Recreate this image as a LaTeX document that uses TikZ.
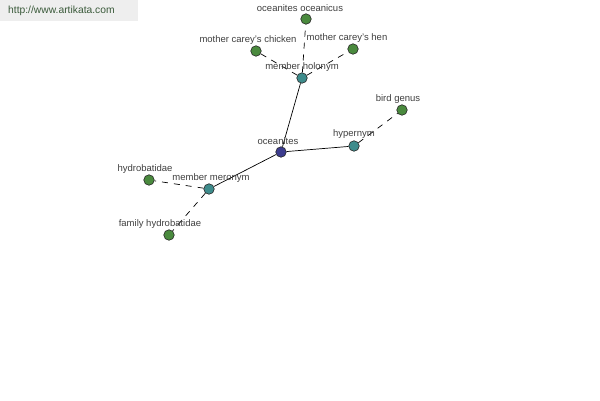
\documentclass[tikz,border=0pt]{standalone}
\usepackage{fontspec}
\setmainfont{Liberation Sans}
\begin{document}
\begin{tikzpicture}[x=1pt,y=-1pt,
  dot/.style={circle,draw=black!85,line width=0.6pt,inner sep=0pt,minimum size=10.5pt},
  leaf/.style={dot,fill=leafgreen},
  rel/.style={dot,fill=relteal},
  root/.style={dot,fill=rootblue},
  lbl/.style={font=\fontsize{9.5}{10}\selectfont,text=black!75,inner sep=0pt},
  solidedge/.style={draw=black,line width=0.7pt},
  dashedge/.style={draw=black,line width=0.7pt,dash pattern=on 6pt off 6pt}]
\definecolor{leafgreen}{HTML}{4A8A3E}
\definecolor{relteal}{HTML}{3E8C8C}
\definecolor{rootblue}{HTML}{3C3C8E}
\definecolor{urlgray}{HTML}{EEEEEE}
\definecolor{urltext}{HTML}{3A5A3A}
\useasboundingbox (0,0) rectangle (600,400);
\fill[white] (0,0) rectangle (600,400);
\node[fill=urlgray,minimum width=138pt,minimum height=21pt,anchor=north west,inner sep=0pt] (urlbox) at (0,0) {};
\node[anchor=west,font=\fontsize{10.3}{11}\selectfont,text=urltext,inner sep=0pt] (url) at (8,11) {http://www.artikata.com};
% nodes
\node[root] (oce) at (281,152) {};
\node[rel] (hol) at (302,78) {};
\node[rel] (hyp) at (354,146) {};
\node[rel] (mer) at (209,189) {};
\node[leaf] (ocn) at (306,19) {};
\node[leaf] (mcc) at (256,51) {};
\node[leaf] (mch) at (353,49) {};
\node[leaf] (bg) at (402,110) {};
\node[leaf] (hyd) at (149,180) {};
\node[leaf] (fh) at (169,235) {};
% edges
\draw[solidedge] (oce) -- (hol);
\draw[solidedge] (oce) -- (hyp);
\draw[solidedge] (oce) -- (mer);
\draw[dashedge] (hol) -- (ocn);
\draw[dashedge] (hol) -- (mcc);
\draw[dashedge] (hol) -- (mch);
\draw[dashedge] (hyp) -- (bg);
\draw[dashedge] (mer) -- (hyd);
\draw[dashedge] (mer) -- (fh);
% labels
\node[lbl] (locn) at (300,8) {oceanites oceanicus};
\node[lbl] (lmcc) at (248,40) {mother carey's chicken};
\node[lbl] (lmch) at (347,38) {mother carey's hen};
\node[lbl] (lhol) at (302,67) {member holonym};
\node[lbl] (lbg) at (398,99) {bird genus};
\node[lbl] (lhyp) at (354,134) {hypernym};
\node[lbl] (loce) at (278,141) {oceanites};
\node[lbl] (lhyd) at (145,169) {hydrobatidae};
\node[lbl] (lmer) at (211,178) {member meronym};
\node[lbl] (lfh) at (160,224) {family hydrobatidae};
\end{tikzpicture}
\end{document}
